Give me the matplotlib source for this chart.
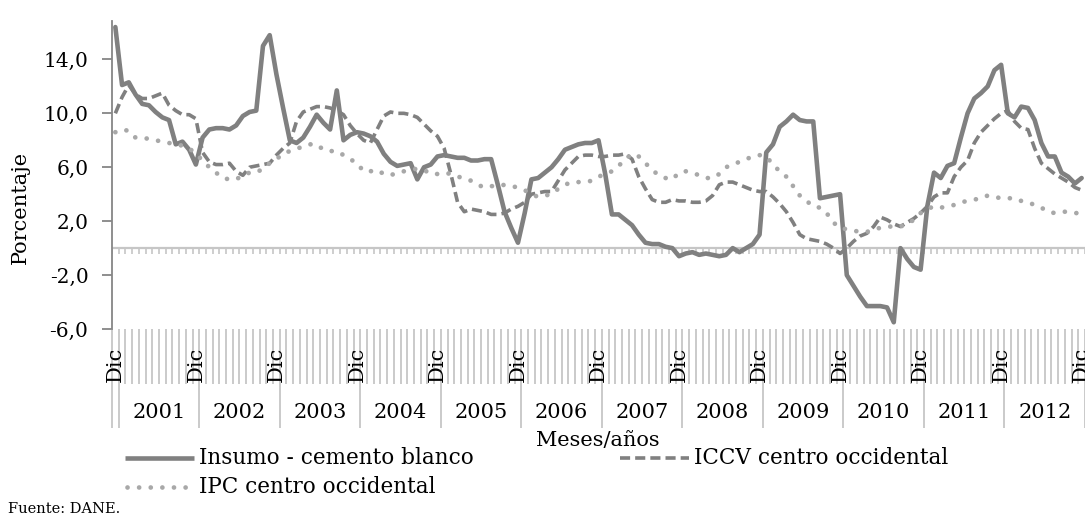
import matplotlib
matplotlib.use("Agg")
import matplotlib.pyplot as plt
from matplotlib.lines import Line2D
import numpy as np

# Monthly series, December 2000 to December 2012 (annual variation, %)
cemento_blanco = [
    16.4,
    12.1, 12.3, 11.4, 10.7, 10.6, 10.1, 9.7, 9.5, 7.7, 7.9, 7.3, 6.2,
    8.2, 8.8, 8.9, 8.9, 8.8, 9.1, 9.8, 10.1, 10.2, 15.0, 15.8, 12.9,
    10.4, 8.0, 7.8, 8.2, 9.0, 9.9, 9.3, 8.8, 11.7, 8.0, 8.4, 8.6,
    8.5, 8.3, 7.9, 7.0, 6.4, 6.1, 6.2, 6.3, 5.1, 6.0, 6.2, 6.8,
    6.9, 6.8, 6.7, 6.7, 6.5, 6.5, 6.6, 6.6, 4.7, 2.7, 1.5, 0.4,
    2.6, 5.1, 5.2, 5.6, 6.0, 6.6, 7.3, 7.5, 7.7, 7.8, 7.8, 8.0,
    5.5, 2.5, 2.5, 2.1, 1.7, 1.0, 0.4, 0.3, 0.3, 0.1, 0.0, -0.6,
    -0.4, -0.3, -0.5, -0.4, -0.5, -0.6, -0.5, 0.0, -0.3, 0.0, 0.3, 1.0,
    7.1, 7.7, 9.0, 9.4, 9.9, 9.5, 9.4, 9.4, 3.7, 3.8, 3.9, 4.0,
    -2.0, -2.8, -3.6, -4.3, -4.3, -4.3, -4.4, -5.5, 0.0, -0.8, -1.4, -1.6,
    3.1, 5.6, 5.2, 6.1, 6.3, 8.2, 10.0, 11.1, 11.5, 12.0, 13.2, 13.6,
    10.0, 9.7, 10.5, 10.4, 9.5, 7.8, 6.8, 6.8, 5.6, 5.3, 4.8, 5.2,
]

iccv_centro_occidental = [
    10.0,
    11.2, 12.1, 11.4, 11.1, 11.1, 11.3, 11.5, 10.6, 10.2, 9.9, 9.9, 9.6,
    7.1, 6.4, 6.2, 6.2, 6.3, 5.7, 5.4, 6.0, 6.1, 6.2, 6.3, 6.9,
    7.4, 7.8, 9.4, 10.1, 10.3, 10.5, 10.5, 10.4, 10.2, 9.9, 9.1, 8.5,
    8.0, 7.8, 8.8, 9.8, 10.1, 10.0, 10.0, 9.9, 9.7, 9.2, 8.7, 8.3,
    7.4, 5.5, 3.4, 2.7, 2.9, 2.8, 2.7, 2.5, 2.5, 2.6, 2.9, 3.1,
    3.4, 4.0, 4.1, 4.2, 4.2, 5.0, 5.8, 6.3, 6.8, 6.9, 6.9, 6.8,
    6.8, 6.9, 6.9, 7.0, 6.6, 5.3, 4.4, 3.6, 3.4, 3.4, 3.6, 3.5,
    3.5, 3.4, 3.4, 3.5, 3.9, 4.7, 4.9, 4.9, 4.7, 4.5, 4.3, 4.2,
    4.2, 3.8, 3.3, 2.7, 1.9, 1.0, 0.7, 0.6, 0.5, 0.3, 0.0, -0.4,
    0.0, 0.5, 0.9, 1.1, 1.6, 2.3, 2.1, 1.8, 1.6, 1.9, 2.2, 2.6,
    3.1, 3.8, 4.1, 4.1, 5.3, 6.0, 6.5, 7.8, 8.6, 9.1, 9.6, 10.0,
    10.2, 9.4, 8.9, 8.8, 7.4, 6.3, 5.9, 5.5, 5.2, 4.9, 4.5, 4.3,
]

ipc_centro_occidental = [
    8.6,
    8.8, 8.7, 8.2, 8.2, 8.1, 8.0, 7.9, 7.8, 7.7, 7.6, 7.4, 7.0,
    6.5, 6.0, 5.6, 5.2, 5.1, 5.1, 5.4, 5.6, 5.6, 5.9, 6.3, 6.6,
    7.0, 7.2, 7.4, 7.5, 7.7, 7.7, 7.3, 7.2, 7.2, 6.9, 6.6, 6.3,
    5.7, 5.7, 5.8, 5.5, 5.4, 5.6, 5.7, 5.8, 5.9, 5.8, 5.5, 5.5,
    5.6, 5.5, 5.3, 5.2, 5.0, 4.7, 4.5, 4.6, 4.6, 4.7, 4.6, 4.5,
    4.3, 4.0, 3.8, 3.9, 4.0, 4.4, 4.7, 4.9, 4.9, 4.9, 5.0, 5.3,
    5.5, 5.7, 6.1, 6.6, 7.0, 6.8, 6.3, 5.8, 5.4, 5.2, 5.1, 5.6,
    5.7, 5.6, 5.4, 5.2, 5.2, 5.5, 6.0, 6.2, 6.4, 6.6, 6.8, 6.9,
    6.8, 6.2, 5.7, 5.3, 4.6, 3.9, 3.5, 3.1, 3.0, 2.6, 1.9, 1.5,
    1.4, 1.3, 1.2, 1.2, 1.4, 1.5, 1.6, 1.6, 1.6, 1.8, 2.1, 2.6,
    2.9, 3.1, 3.0, 3.1, 3.2, 3.4, 3.5, 3.6, 3.7, 3.9, 3.8, 3.7,
    3.7, 3.7, 3.5, 3.4, 3.2, 3.0, 2.7, 2.6, 2.7, 2.7, 2.6, 2.6,
]

years = [2001, 2002, 2003, 2004, 2005, 2006, 2007, 2008, 2009, 2010, 2011, 2012]
month_names = ["Ene", "Feb", "Mar", "Abr", "May", "Jun",
               "Jul", "Ago", "Sep", "Oct", "Nov", "Dic"]
y_ticks = [-6, -2, 2, 6, 10, 14]

series_names = ["Insumo - cemento blanco", "ICCV centro occidental", "IPC centro occidental"]
x_title = "Meses/años"
y_title = "Porcentaje"
source_note = "Fuente: DANE."

# Category list: December of the first year, then every month of each year
categories = [(years[0] - 1, 11)] + [(y, m) for y in years for m in range(12)]
n = len(categories)
x = np.arange(n)

FONT = "DejaVu Serif"
FS = 15
plt.rcParams["font.family"] = [FONT]

W, H = 1085, 521
fig = plt.figure(figsize=(W / 100, H / 100), dpi=100)
ax_left, ax_right, ax_top, ax_bottom = 112, 1085, 21, 329
ax = fig.add_axes([ax_left / W, 1 - ax_bottom / H,
                   (ax_right - ax_left) / W, (ax_bottom - ax_top) / H])

dark = "#808080"
light = "#a8a8a8"
rule = "#c6c6c6"

solid_style = dict(color=dark, lw=3.3, solid_joinstyle="round")
dash_style = dict(color=dark, lw=2.6, linestyle=(0, (2.8, 1.4)),
                  dash_capstyle="butt", dash_joinstyle="round")
dot_style = dict(color=light, lw=3.4, linestyle=(0, (0.01, 2.45)),
                 dash_capstyle="round")

ax.plot(x, cemento_blanco, solid_capstyle="round", zorder=3, **solid_style)
ax.plot(x, iccv_centro_occidental, zorder=4, **dash_style)
ax.plot(x, ipc_centro_occidental, zorder=5, **dot_style)

ax.set_xlim(-0.5, n - 0.5)
ax.set_ylim(-6, 16.85)

for side in ("top", "right", "bottom"):
    ax.spines[side].set_visible(False)
ax.spines["left"].set_color("#868686")
ax.spines["left"].set_linewidth(1.3)

ax.set_yticks(y_ticks)
ax.set_yticklabels([f"{v:.1f}".replace(".", ",") for v in y_ticks])
ax.tick_params(axis="y", length=7, width=1.3, color="#868686", pad=10,
               labelsize=14.5, labelcolor="black")
ax.set_xticks([])

# Category axis crossing at zero, with small month ticks
ax.axhline(0, color=rule, lw=1.6, zorder=1)
bounds = np.arange(n + 1) - 0.5
ax.vlines(bounds, 0, -0.45, color=rule, lw=1.2, zorder=1)

# Multi-level category labels below the plot
xa = ax.get_xaxis_transform()
span = ax_bottom - ax_top
month_line_end = -(384 - ax_bottom) / span
year_line_end = -(428 - ax_bottom) / span
ax.vlines(bounds, 0, month_line_end, transform=xa, clip_on=False,
          color=rule, lw=1.3)
year_bounds = [-0.5] + [i - 0.5 for i, (yy, m) in enumerate(categories) if m == 0] + [n - 0.5]
ax.vlines(year_bounds, month_line_end, year_line_end, transform=xa,
          clip_on=False, color=rule, lw=1.3)

for i, (yy, m) in enumerate(categories):
    if m == 11:
        ax.text(i, -(382 - ax_bottom) / span, month_names[m],
                transform=xa, rotation=90, ha="center", va="bottom",
                fontsize=FS, clip_on=False)
for yy in years:
    idx = [i for i, (cy, m) in enumerate(categories) if cy == yy]
    ax.text((idx[0] + idx[-1]) / 2, -(412 - ax_bottom) / span,
            str(yy), transform=xa, ha="center", va="center", fontsize=FS,
            clip_on=False)

# Axis titles
fig.text(20 / W, 1 - 207 / H, y_title, rotation=90, ha="center", va="center",
         fontsize=FS)
fig.text(598 / W, 1 - 440 / H, x_title, ha="center", va="center", fontsize=FS)

# Legend
def legend_entry(x0, x1, yc, text, style):
    fig.add_artist(Line2D([x0 / W, x1 / W], [1 - yc / H, 1 - yc / H], **style))
    fig.text((x1 + 5) / W, 1 - yc / H, text, ha="left", va="center",
             fontsize=15.5)

legend_entry(125, 194, 458, series_names[0],
             dict(solid_style, solid_capstyle="butt"))
legend_entry(620, 689, 458, series_names[1], dash_style)
legend_entry(127, 194, 487, series_names[2], dot_style)

fig.text(8 / W, 1 - 509 / H, source_note, ha="left", va="center", fontsize=10.5)

fig.savefig("out.png", dpi=100)
